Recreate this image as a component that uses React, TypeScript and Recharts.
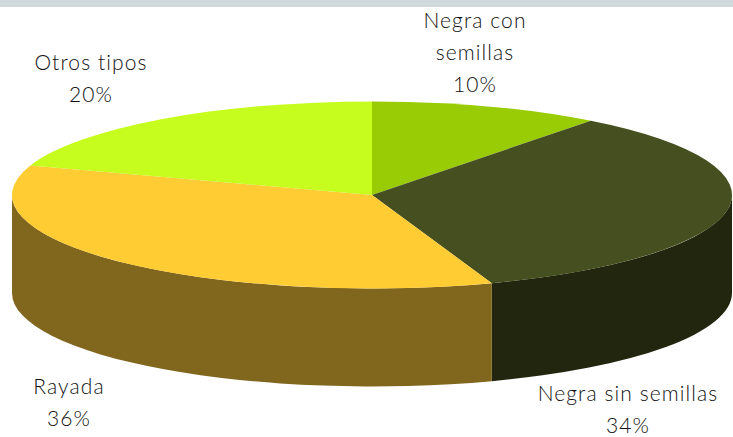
import React from 'react';
import { PieChart, Pie, Cell } from 'recharts';

const categories = ['Negra con semillas', 'Negra sin semillas', 'Rayada', 'Otros tipos'];
const shares = [10.4, 34.2, 35.5, 19.9];
const labelLines = [['Negra con', 'semillas'], ['Negra sin semillas'], ['Rayada'], ['Otros tipos']];
const topColors = ['#99CC05', '#464F1F', '#FFCC33', '#C6FC1E'];
const sideColors = ['#99CC05', '#22260F', '#81661E', '#C6FC1E'];

const chartData = categories.map((name, i) => ({ name, value: shares[i] }));

const W = 733;
const H = 437;
const CX = 372;
const CY = 195;
const RX = 360;
const RY = 93.5;
const DEPTH = 98;
const FONT = 'Lato, sans-serif';
const LINE = 32;
// first-baseline anchor of each label, relative to the pie centre
const labelOffsets = [
  [103, -167],
  [256, 206],
  [-303, 199],
  [-281, -125],
];

const rad = Math.PI / 180;
const pt = (a: number, dy = 0) => [CX + RX * Math.cos(a * rad), CY - RY * Math.sin(a * rad) + dy];

function Slice3D(props: any) {
  const { startAngle, endAngle, index } = props;
  const [x1, y1] = pt(startAngle);
  const [x2, y2] = pt(endAngle);
  const large = Math.abs(startAngle - endAngle) > 180 ? 1 : 0;
  const top = `M${CX},${CY} L${x1},${y1} A${RX},${RY} 0 ${large} 1 ${x2},${y2} Z`;
  const hi = Math.min(Math.max(startAngle, endAngle), 0);
  const lo = Math.max(Math.min(startAngle, endAngle), -180);
  let side = null;
  if (hi > lo) {
    const [a, b] = pt(hi);
    const [c, d] = pt(lo);
    const [e, f] = pt(lo, DEPTH);
    const [g, h] = pt(hi, DEPTH);
    side = (
      <path
        d={`M${a},${b} A${RX},${RY} 0 0 1 ${c},${d} L${e},${f} A${RX},${RY} 0 0 0 ${g},${h} Z`}
        fill={sideColors[index]}
      />
    );
  }
  return (
    <g>
      {side}
      <path d={top} fill={topColors[index]} />
    </g>
  );
}

function SliceLabel(props: any) {
  const { index, cx, cy } = props;
  const [dx, dy] = labelOffsets[index];
  const lines = [...labelLines[index], `${Math.round(shares[index])}%`];
  return (
    <text
      x={cx + dx}
      y={cy + dy}
      textAnchor="middle"
      fontFamily={FONT}
      fontWeight={300}
      fontSize={21}
      letterSpacing={1.1}
      fill="#111111"
    >
      {lines.map((t, i) => (
        <tspan key={i} x={cx + dx} dy={i === 0 ? 0 : LINE}>
          {t}
        </tspan>
      ))}
    </text>
  );
}

export default function App() {
  return (
    <div style={{ position: 'absolute', left: 0, top: 0, width: W, height: H, background: '#fff', overflow: 'hidden' }}>
      <div style={{ position: 'absolute', left: 0, top: 0, width: W, height: 7, background: '#D0DADD' }} />
      <PieChart width={W} height={H} margin={{ top: 0, right: 0, bottom: 0, left: 0 }}>
        <Pie
          data={chartData}
          dataKey="value"
          nameKey="name"
          cx={CX}
          cy={CY}
          innerRadius={0}
          outerRadius={RX}
          startAngle={90}
          endAngle={-270}
          paddingAngle={0}
          stroke="none"
          isAnimationActive={false}
          shape={Slice3D}
          label={SliceLabel}
          labelLine={false}
        >
          {chartData.map((d, i) => (
            <Cell key={d.name} fill={topColors[i]} />
          ))}
        </Pie>
      </PieChart>
    </div>
  );
}
